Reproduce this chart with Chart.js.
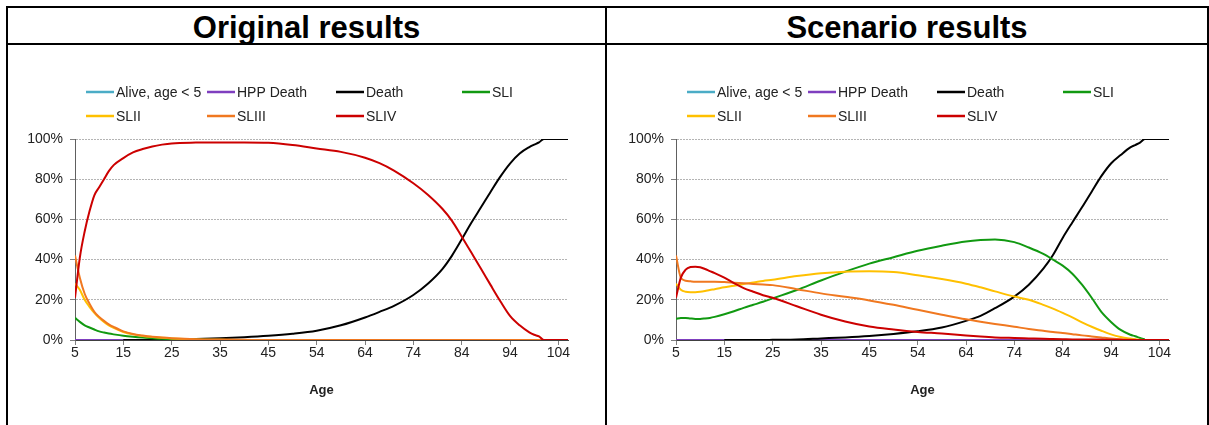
<!DOCTYPE html>
<html>
<head>
<meta charset="utf-8">
<script src="https://cdn.jsdelivr.net/npm/chart.js@4/dist/chart.umd.min.js"></script>
<style>
  body { margin: 0; background: #fff; width: 1209px; height: 425px; overflow: hidden; position: relative; font-family: "Liberation Sans", Arial, sans-serif; }
  .frame { position: absolute; left: 6px; top: 6px; width: 1199px; height: 430px; border: 2px solid #000; border-bottom: none; }
  .hline { position: absolute; left: 6px; top: 43px; width: 1203px; height: 2px; background: #000; }
  .vline { position: absolute; left: 605px; top: 6px; width: 2px; height: 430px; background: #000; }
  .title { position: absolute; top: 8px; height: 35px; line-height: 39px; text-align: center; font-weight: bold; font-size: 31px; color: #000; }
  canvas { position: absolute; top: 46px; }
</style>
</head>
<body>
<div class="title" style="left:8px;width:597px;">Original results</div>
<div class="title" style="left:607px;width:600px;">Scenario results</div>
<canvas id="origChart" width="597" height="379" style="left:8px;"></canvas>
<canvas id="scenChart" width="600" height="379" style="left:607px;"></canvas>
<div class="frame"></div>
<div class="hline"></div>
<div class="vline"></div>
<script>
// series names and colours, same order as the Excel legend
var seriesNames = ['Alive, age < 5', 'HPP Death', 'Death', 'SLI', 'SLII', 'SLIII', 'SLIV'];
var seriesColors = ['#4bacc6', '#7f3fbf', '#000000', '#119911', '#ffc000', '#f07820', '#cc0000'];

// x positions are category numbers (0 = age 5), labelled every 10 categories
var xIndex = [0,1,2,3,4,5,6,7,8,10,12,14,16,18,20,25,30,35,40,45,50,55,60,63,66,70,73,76,78,80,82,84,86,88,90,92,94,95,96,97,98,100,102];
var xTickLabels = ['5','15','25','35','45','54','64','74','84','94','104'];
var yTicks = [0, 20, 40, 60, 80, 100];

// Original results (%)
var origAlive = [0,0,0,0,0,0,0,0,0,0,0,0,0,0,0,0,0,0,0,0,0,0,0,0,0,0,0,0,0,0,0,0,0,0,0,0,0,0,0,0,null,null,null];
var origHpp   = [0,0,0,0,0,0,0,0,0,0,0,0,0,0,0,0,0,0,0,0,0,0,0,0,0,0,0,0,0,0,0,0,0,0,0,0,0,0,0,0,null,null,null];
var origDeath = [null,null,null,null,null,null,null,null,null,0,0,0,0,0.1,0.2,0.5,0.9,1.4,2.1,3.1,4.6,7.3,11.2,14,17,22.4,28,35.3,42,50,58.3,66,73.8,81.3,87.8,92.8,96,97.2,98.3,100,100,100,100];
var origSLI   = [11,9,7.3,6.2,5.2,4.3,3.7,3.2,2.8,2.1,1.6,1.2,0.9,0.6,0.4,0.2,0.1,0,0,0,0,0,0,0,0,0,0,0,0,0,0,0,0,0,0,0,0,0,0,0,null,null,null];
var origSLII  = [28,25,20,16.5,13.5,11,9,7.3,6,4,2.8,2,1.5,1.1,0.8,0.3,0.1,0,0,0,0,0,0,0,0,0,0,0,0,0,0,0,0,0,0,0,0,0,0,0,null,null,null];
var origSLIII = [42,31,23,18,14,11.5,9.5,7.8,6.5,4.3,3,2.2,1.6,1.2,0.9,0.4,0.2,0.1,0,0,0,0,0,0,0,0,0,0,0,0,0,0,0,0,0,0,0,0,0,0,null,null,null];
var origSLIV  = [21,41,54,64,72,76,80,84,87,90.5,93.3,95,96.3,97.2,97.8,98.2,98.3,98.3,98.1,97,95.3,93.6,90.7,88,84.3,78,72.3,65.3,59.3,51.5,43.5,35.5,27.3,19.3,12,7.3,3.8,2.6,1.8,0,0,0,0];

// Scenario results (%)
var scenAlive = [0,0,0,0,0,0,0,0,0,0,0,0,0,0,0,0,0,0,0,0,0,0,0,0,0,0,0,0,0,0,0,0,0,0,0,0,0,0,0,0,null,null,null];
var scenHpp   = [0,0,0,0,0,0,0,0,0,0,0,0,0,0,0,0,0,0,0,0,0,0,0,0,0,0,0,0,0,0,0,0,0,0,0,0,0,0,0,0,null,null,null];
var scenDeath = [null,null,null,null,null,null,null,null,null,0,0,0,0,0,0.1,0.3,0.8,1.3,2,3,4.3,6.2,9.5,12,15.8,21.6,27.5,35.5,42.3,50.8,58.5,66,73.8,81.5,87.8,92,95.8,97,98.2,100,100,100,100];
var scenSLI   = [10.5,11,11,10.7,10.5,10.5,10.7,11,11.5,12.8,14.3,16,17.5,19,20.7,24.9,29.6,34,38,41.2,44.4,46.9,49,49.7,50,48.7,46,42.8,40,37,33,27.5,21,14,9,5,2.6,1.9,1,0.3,null,null,null];
var scenSLII  = [28,25,24,23.8,23.8,24,24.4,24.9,25.3,26.2,27,27.9,28.6,29.4,30,31.8,33.2,34,34.2,33.8,32.2,30.3,28,26.2,24.2,21.6,20,17.5,15.6,13.5,11.3,8.8,6.6,4.6,2.8,1.5,0.7,0.4,0.1,0,null,null,null];
var scenSLIII = [42,31,29.5,29.2,29,29,29,29,29,28.8,28.5,28.2,27.9,27.6,27.3,25.3,23.2,21.5,19.7,17.5,15,12.6,10.3,9.1,8,6.6,5.5,4.6,4,3.5,2.9,2.3,1.8,1.3,0.8,0.4,0.2,0.1,0,0,null,null,null];
var scenSLIV  = [21,31,35,36.3,36.5,36.2,35.3,34.3,33.3,31,28.3,25.8,24,22.3,21,16.8,12.6,9.2,6.7,5.2,4,3.2,2.2,1.7,1.3,1,0.8,0.6,0.5,0.4,0.3,0.3,0.2,0.2,0.1,0.1,0,0,0,0,0,0,0];

var legendCols = [11, 132, 261, 387];
var legendRows = [-47, -23];
var fontFamily = '"Liberation Sans", Arial, sans-serif';

// legend in a fixed grid, like the Excel one
var gridLegend = {
    id: 'gridLegend',
    afterDraw: function(chart) {
        var ctx = chart.ctx;
        var area = chart.chartArea;
        ctx.save();
        ctx.font = '14px ' + fontFamily;
        ctx.textBaseline = 'middle';
        chart.data.datasets.forEach(function(ds, i) {
            var col = i < 4 ? i : i - 4;
            var row = i < 4 ? 0 : 1;
            var x = area.left + legendCols[col];
            var y = area.top + legendRows[row];
            ctx.strokeStyle = ds.borderColor;
            ctx.lineWidth = 2.5;
            ctx.beginPath();
            ctx.moveTo(x, y);
            ctx.lineTo(x + 28, y);
            ctx.stroke();
            ctx.fillStyle = '#222';
            ctx.fillText(ds.label, x + 30, y + 1);
        });
        ctx.restore();
    }
};

function makeChart(id, seriesList, axisWidth, rightPad) {
    var datasets = seriesList.map(function(vals, i) {
        return {
            label: seriesNames[i],
            data: xIndex.map(function(x, j) { return {x: x, y: vals[j]}; }),
            borderColor: seriesColors[i],
            backgroundColor: seriesColors[i],
            borderWidth: 2,
            pointRadius: 0,
            cubicInterpolationMode: 'monotone',
            order: seriesList.length - 1 - i
        };
    });
    return new Chart(document.getElementById(id).getContext('2d'), {
        type: 'line',
        data: { datasets: datasets },
        options: {
            responsive: false,
            animation: false,
            devicePixelRatio: 1,
            layout: { padding: { top: 93, left: 0, right: rightPad, bottom: 0 } },
            plugins: { legend: { display: false }, tooltip: { enabled: false } },
            scales: {
                x: {
                    type: 'linear',
                    min: 0,
                    max: 102,
                    afterFit: function(scale) { scale.height = 85; },
                    grid: { drawOnChartArea: false, drawTicks: true, tickLength: 5, tickColor: '#808080' },
                    border: { display: true, color: '#404040', width: 1 },
                    ticks: {
                        stepSize: 10,
                        includeBounds: false,
                        autoSkip: false,
                        maxRotation: 0,
                        padding: 0,
                        color: '#222',
                        font: { family: fontFamily, size: 14 },
                        callback: function(value) {
                            if (value % 10 === 0) { return xTickLabels[value / 10]; }
                            return null;
                        }
                    },
                    title: {
                        display: true,
                        text: 'Age',
                        color: '#222',
                        font: { family: fontFamily, size: 13, weight: 'bold' },
                        padding: { top: 0, bottom: 27 }
                    }
                },
                y: {
                    min: 0,
                    max: 100,
                    afterFit: function(scale) { scale.width = axisWidth; },
                    afterBuildTicks: function(scale) {
                        scale.ticks = yTicks.map(function(v) { return {value: v}; });
                    },
                    grid: { color: '#b4b4b4', tickColor: '#808080', tickLength: 5, tickBorderDash: [] },
                    border: { display: true, color: '#606060', width: 1, dash: [2, 1] },
                    ticks: {
                        padding: 7,
                        color: '#222',
                        font: { family: fontFamily, size: 14 },
                        callback: function(value) { return value + '%'; }
                    }
                }
            }
        },
        plugins: [gridLegend]
    });
}

makeChart('origChart', [origAlive, origHpp, origDeath, origSLI, origSLII, origSLIII, origSLIV], 67, 37);
makeChart('scenChart', [scenAlive, scenHpp, scenDeath, scenSLI, scenSLII, scenSLIII, scenSLIV], 69, 38);
</script>
</body>
</html>
